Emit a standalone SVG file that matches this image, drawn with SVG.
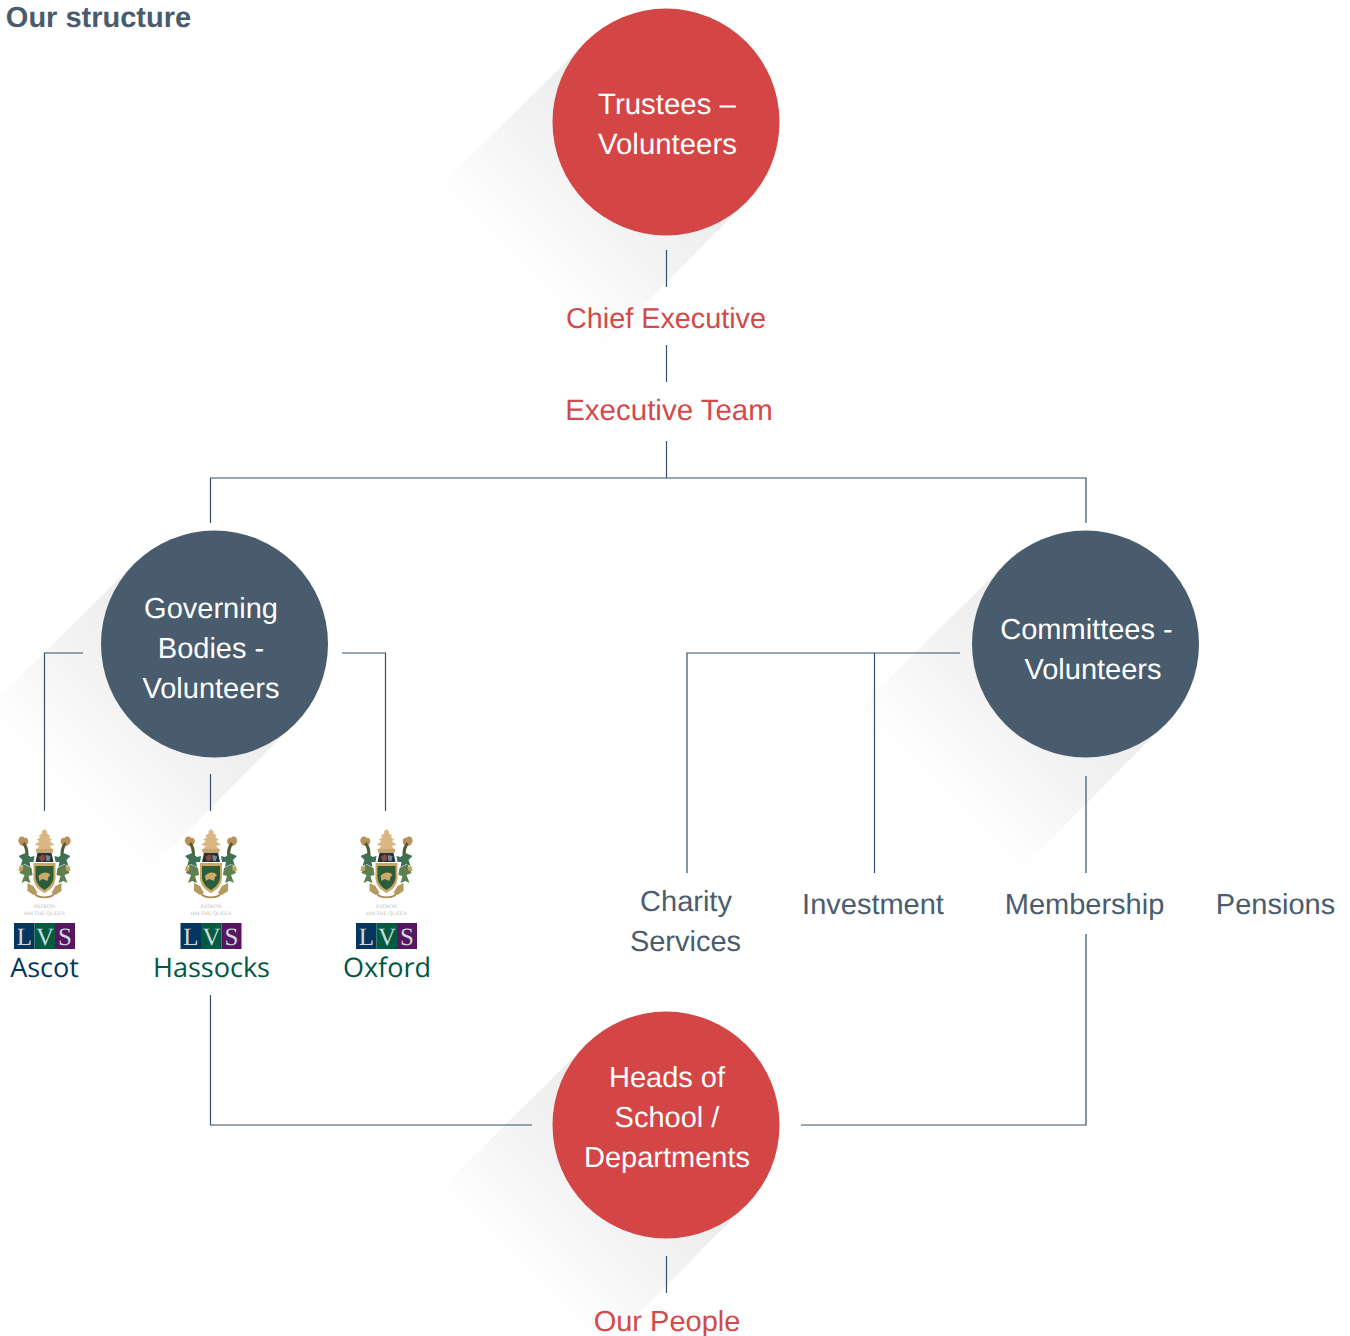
<svg xmlns="http://www.w3.org/2000/svg" width="1350" height="1336" viewBox="0 0 1350 1336">
<style>
text{font-family:"Liberation Sans",Arial,sans-serif;font-size:29px;text-anchor:middle;text-rendering:geometricPrecision}
.w{fill:#fff}.r{fill:#d24a4a}.s{fill:#4a5c6d}
.red{fill:#d44545}.slate{fill:#485c6d}
.c{fill:none;stroke:#34506a;stroke-width:1.200}
.sh{fill:url(#fade)}
.lab{font-family:"Open Sans","Noto Sans",sans-serif;font-size:27px}
.lvs{font-family:"Liberation Serif",serif;font-size:25px;fill:#cfd8dc}
.pat{font-family:"Liberation Serif",serif;font-size:5.500px;fill:#bdbdbd}
</style>
<defs>
<linearGradient id="fade" x1="0.74" y1="0.26" x2="0.26" y2="0.74">
<stop offset="0" stop-color="#ebebeb"/><stop offset="0.5" stop-color="#f3f3f3"/><stop offset="1" stop-color="#ffffff"/>
</linearGradient>
<polygon id="shadow" class="sh" points="586,42 438,188 600,350 746,202"/>
<g id="crest">
<path d="M0,0L3,3L2,4L6,7L4,8L8,11L5,12L10,16L5,17L8,20L-8,20L-5,17L-10,16L-5,12L-8,11L-4,8L-6,7L-2,4L-3,3Z" fill="#d9b683"/>
<path d="M-26,13C-27,8-22,6-20,9C-17,8-15,12-17,15C-20,18-24,18-26,13Z" fill="#b9925a"/>
<path d="M26,13C27,8,22,6,20,9C17,8,15,12,17,15C20,18,24,18,26,13Z" fill="#b9925a"/>
<path d="M-20,13C-17,17-16,20-16,26L-19,27C-19,22-20,18-22,15Z" fill="#4d5f35"/>
<path d="M20,13C17,17,16,20,16,26L19,27C19,22,20,18,22,15Z" fill="#4d5f35"/>
<path d="M-26,27L-19,24L-14,28L-10,27L-11,33L-15,33L-14,38L-20,35L-24,37L-22,31Z" fill="#3f7053"/>
<path d="M26,27L19,24L14,28L10,27L11,33L15,33L14,38L20,35L24,37L22,31Z" fill="#3f7053"/>
<path d="M-9,20L9,20L8,24L-8,24Z" fill="#c7a672"/>
<path d="M-7,24L7,24L9,33L-9,33Z" fill="#28303a"/>
<path d="M-6,28L-1,25L1,30L-3,33Z" fill="#8a4a42"/>
<path d="M1,26L6,27L5,32L2,32Z" fill="#6f8b8e"/>
<path d="M-11,34L11,34L11,50C10,58,4,62,0,64C-4,62-10,58-11,50Z" fill="#c9a868"/>
<path d="M-9,37L9,37L9,49C8,56,3,59,0,61C-3,59-8,56-9,49Z" fill="#2c5d38"/>
<path d="M-6,47C-3,43,3,42,6,46L4,48L3,52L-2,50L-5,52Z" fill="#cda868"/>
<path d="M-21,35L-13,39L-12,46L-16,47L-14,54L-19,52L-23,54L-20,46L-25,44Z" fill="#5d7f52"/>
<path d="M21,35L13,39L12,46L16,47L14,54L19,52L23,54L20,46L25,44Z" fill="#5d7f52"/>
<path d="M-25,37L-21,38L-22,42L-26,42ZM25,37L21,38L22,42L26,42Z" fill="#c4a15e"/>
<path d="M-17,54L-11,57L-7,64L-11,66L-17,62ZM17,54L11,57L7,64L11,66L17,62Z" fill="#b59a60"/>
<path d="M-11,63C-5,69,5,69,11,63L9,67C4,70-4,70-9,67Z" fill="#a78a50"/>
<text class="pat" x="0" y="79">PATRON</text>
<text class="pat" x="0" y="86">HM THE QUEEN</text>
<rect x="-30.500" y="94" width="20.500" height="26" fill="#05365f"/>
<rect x="-10" y="94" width="20.500" height="26" fill="#015b3f"/>
<rect x="10.500" y="94" width="20" height="26" fill="#561662"/>
<text class="lvs" x="-20" y="115.500">L</text>
<text class="lvs" x="0.500" y="115.500">V</text>
<text class="lvs" x="20.500" y="115.500">S</text>
</g>
</defs>

<g id="shadows">
<use href="#shadow"/>
<use href="#shadow" transform="translate(-452,522)"/>
<use href="#shadow" transform="translate(419,522)"/>
<use href="#shadow" transform="translate(0,1003)"/>
</g>

<g id="connectors">
<path class="c" d="M666.500,250V287"/>
<path class="c" d="M666.500,345V382"/>
<path class="c" d="M666.500,441V478"/>
<path class="c" d="M210.500,523V478H1086V523"/>
<path class="c" d="M83,653H44.500V811"/>
<path class="c" d="M342,653H385.500V811"/>
<path class="c" d="M210.500,774V811"/>
<path class="c" d="M960,653H687V873"/>
<path class="c" d="M874.500,653V873"/>
<path class="c" d="M1086,776V873"/>
<path class="c" d="M210.500,995V1125H532"/>
<path class="c" d="M801,1125H1086V934"/>
<path class="c" d="M666.500,1256V1293"/>
</g>

<text id="title" x="98.500" y="27" style="font-weight:bold;font-size:29px" class="slate">Our structure</text>

<g id="trustees"><circle cx="666" cy="122" r="113.500" class="red"/>
<text class="w" x="667" y="114" style="font-size:29.400px">Trustees –</text><text class="w" x="667.500" y="154" style="font-size:29.400px">Volunteers</text></g>
<g id="chief-executive"><text class="r" x="666" y="328" style="font-size:28.800px">Chief Executive</text></g>
<g id="executive-team"><text class="r" x="669" y="420" style="font-size:29.500px">Executive Team</text></g>

<g id="governing-bodies"><circle cx="214.500" cy="644" r="113.500" class="slate"/>
<text class="w" x="211" y="618">Governing</text><text class="w" x="211" y="658">Bodies -</text><text class="w" x="211" y="698">Volunteers</text></g>

<g id="committees"><circle cx="1085.500" cy="644" r="113.500" class="slate"/>
<text class="w" x="1086.500" y="639">Committees -</text><text class="w" x="1093" y="679">Volunteers</text></g>

<g id="ascot"><use href="#crest" transform="translate(44.500,829)"/><text class="lab" x="44.500" y="977" fill="#003764">Ascot</text></g>
<g id="hassocks"><use href="#crest" transform="translate(211,829)"/><text class="lab" x="211.500" y="977" fill="#00573f">Hassocks</text></g>
<g id="oxford"><use href="#crest" transform="translate(386.500,829)"/><text class="lab" x="387" y="977" fill="#00573f">Oxford</text></g>

<g id="charity-services"><text class="s" x="686" y="911">Charity</text><text class="s" x="685.500" y="951">Services</text></g>
<g id="investment"><text class="s" x="873" y="914">Investment</text></g>
<g id="membership"><text class="s" x="1084.500" y="914">Membership</text></g>
<g id="pensions"><text class="s" x="1275.500" y="914">Pensions</text></g>

<g id="heads"><circle cx="666" cy="1125" r="113.500" class="red"/>
<text class="w" x="667" y="1087">Heads of</text><text class="w" x="667" y="1127">School /</text><text class="w" x="667" y="1167">Departments</text></g>
<g id="our-people"><text class="r" x="667" y="1331">Our People</text></g>
</svg>
